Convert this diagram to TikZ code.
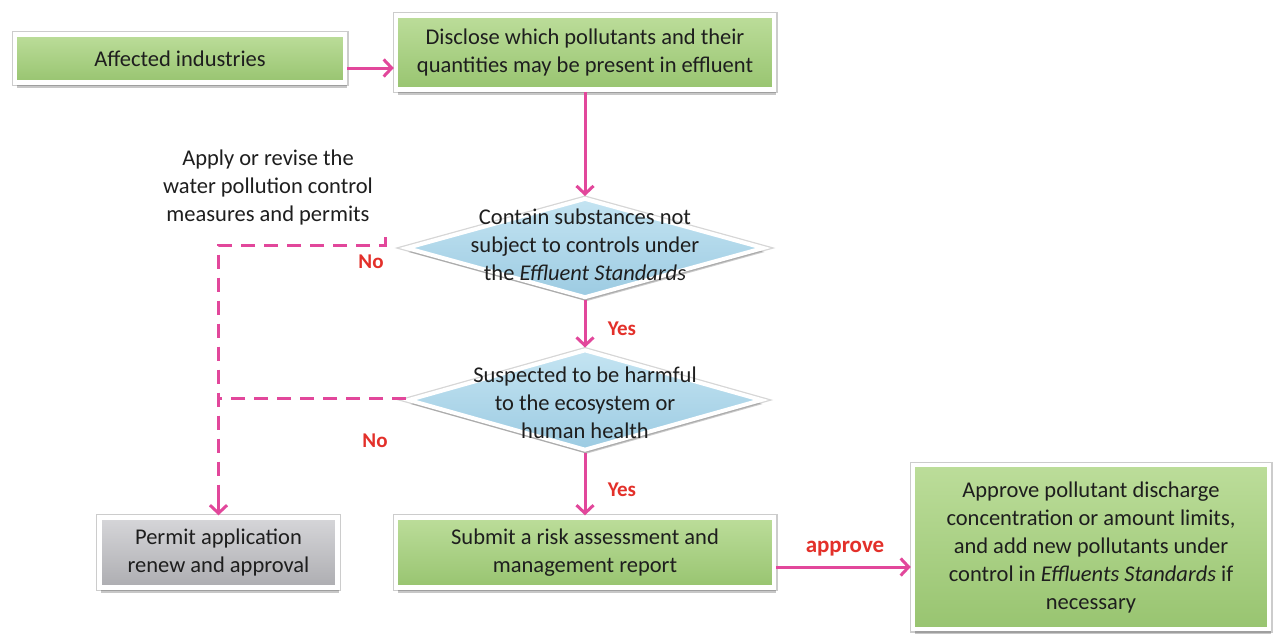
\documentclass[tikz,border=0pt]{standalone}
\usepackage{fontspec}
\setmainfont{Carlito}
\usetikzlibrary{shapes.geometric,arrows.meta,shadows}
\definecolor{gtop}{HTML}{BCDD9A}
\definecolor{gbot}{HTML}{98C470}
\definecolor{btop}{HTML}{C4E4F2}
\definecolor{bbot}{HTML}{9CCBE2}
\definecolor{xtop}{HTML}{D6D6D9}
\definecolor{xbot}{HTML}{ADADB1}
\definecolor{pinkc}{HTML}{E2479B}
\definecolor{redc}{HTML}{E3302A}
\definecolor{txt}{HTML}{1E1E1E}
\tikzset{
  basefont/.style={font=\fontsize{22.5}{28}\selectfont, text=txt},
  boxstyle/.style={draw=white, line width=4.5pt, top color=gtop, bottom color=gbot,
    preaction={draw=black!20, line width=7pt},
    drop shadow={shadow xshift=1.5pt, shadow yshift=-5pt, fill=black, opacity=0.22},
    align=center, basefont, inner sep=2pt},
  graybox/.style={boxstyle, top color=xtop, bottom color=xbot},
  decision/.style={diamond, draw=white, line width=4pt, top color=btop, bottom color=bbot,
    preaction={draw=black!16, line width=6.5pt},
    drop shadow={shadow xshift=1.5pt, shadow yshift=-4pt, fill=black, opacity=0.2},
    inner sep=0pt},
  dtext/.style={align=center, basefont},
  arr/.style={draw=pinkc, line width=3pt, -{Straight Barb[length=8pt,width=17pt,line width=3pt]}},
  dashline/.style={draw=pinkc, line width=3pt, dash pattern=on 14pt off 9pt},
  lab/.style={text=redc, font=\bfseries\fontsize{21}{24}\selectfont},
}
\begin{document}
\begin{tikzpicture}[x=1pt,y=-1pt]
\useasboundingbox (0,0) rectangle (1274,635);
\fill[white] (0,0) rectangle (1274,635);

\node[boxstyle, minimum width=330pt, minimum height=48pt] (b1) at (180,58.5) {Affected industries};
\node[boxstyle, minimum width=378pt, minimum height=74pt] (b2) at (585,52.5) {Disclose which pollutants and their\\quantities may be present in effluent};

\node[decision, minimum width=358pt, minimum height=100pt] (d1) at (585,248) {};
\node[dtext] (d1t) at (585,245) {Contain substances not\\subject to controls under\\the \textit{Effluent Standards}};

\node[decision, minimum width=354pt, minimum height=101pt] (d2) at (585,400) {};
\node[dtext] (d2t) at (585,403) {Suspected to be harmful\\to the ecosystem or\\human health};

\node[graybox, minimum width=238pt, minimum height=70pt] (b3) at (218.5,552.5) {Permit application\\renew and approval};
\node[boxstyle, minimum width=378pt, minimum height=70pt] (b4) at (585,552.5) {Submit a risk assessment and\\management report};
\node[boxstyle, minimum width=356pt, minimum height=164pt] (b5) at (1091,547) {Approve pollutant discharge\\concentration or amount limits,\\and add new pollutants under\\control in \textit{Effluents Standards} if\\necessary};

\node[dtext] (note) at (268,187) {Apply or revise the\\water pollution control\\measures and permits};

\coordinate (a1) at ([yshift=-9.5pt]b1.east);
\draw[arr] (a1) -- (a1 -| b2.west);
\draw[arr] (b2.south) -- (d1.north);
\draw[arr] (d1.south) -- (d2.north);
\draw[arr] (d2.south) -- (b4.north);
\coordinate (a2) at ([yshift=-14.5pt]b4.east);
\draw[arr] (a2) -- (a2 -| b5.west);

\coordinate (n1) at (385,237);
\coordinate (n2) at (385,245);
\coordinate (n3) at (218.5,245);
\draw[dashline] (n1) -- (n2) -- (n3) -- (218.5,495);
\draw[arr] (218.5,490) -- (b3.north);
\coordinate (n4) at (218.5,398);
\draw[dashline] (d2.west |- n4) -- (n4);

\node[lab] (no1) at (371,262) {No};
\node[lab] (no2) at (375,441) {No};
\node[lab] (yes1) at (622,329) {Yes};
\node[lab] (yes2) at (622,490) {Yes};
\node[lab, font=\bfseries\fontsize{23}{24}\selectfont] (appr) at (845,549) {approve};
\end{tikzpicture}
\end{document}
